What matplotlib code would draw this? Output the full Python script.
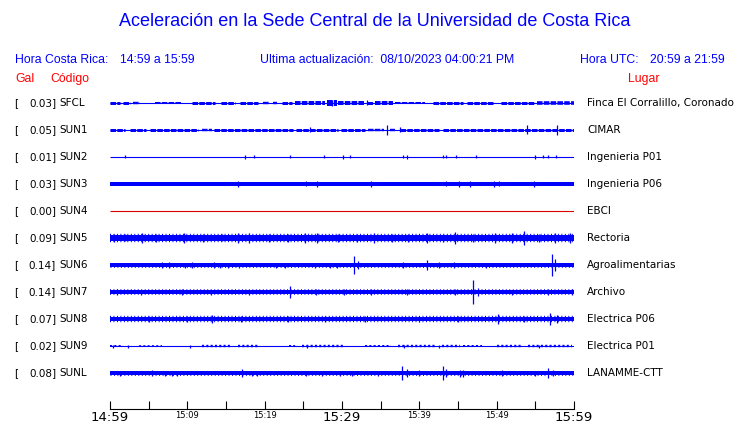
import numpy as np
import matplotlib.pyplot as plt

plt.rcParams['lines.scale_dashes'] = False

# station list (top to bottom)
codes = ['SFCL', 'SUN1', 'SUN2', 'SUN3', 'SUN4', 'SUN5', 'SUN6', 'SUN7', 'SUN8', 'SUN9', 'SUNL']
gal = [0.03, 0.05, 0.01, 0.03, 0.00, 0.09, 0.14, 0.14, 0.07, 0.02, 0.08]
places = ['Finca El Corralillo, Coronado', 'CIMAR', 'Ingenieria P01', 'Ingenieria P06', 'EBCI',
          'Rectoria', 'Agroalimentarias', 'Archivo', 'Electrica P06', 'Electrica P01', 'LANAMME-CTT']

# amplitudes are in trace units, 27 units = distance between two traces
# continuous noise band half-height of each trace
base_amp = [0.5, 0.5, 0.5, 1.6, 0.5, 3.0, 1.6, 1.8, 2.4, 0.5, 1.8]
# typical noise peaks around the band
peak_amp = [0.0, 0.0, 0.0, 2.0, 0.0, 4.2, 2.4, 2.8, 3.2, 0.0, 2.4]

# noisier stretches: (start minute, end minute, half-height)
segments = {
    'SFCL': [(0, 1.3, 1.5), (1.7, 2.6, 1.5), (3.0, 3.9, 1.2), (5.8, 9.3, 1.0), (10.6, 13.6, 1.5),
             (14.4, 16.2, 1.5), (16.8, 19.2, 1.5), (19.8, 20.5, 1.2), (21.1, 21.6, 1.2),
             (22.2, 23.5, 1.5), (23.9, 27.8, 2.0), (28.0, 29.3, 3.0), (29.5, 33.0, 2.0),
             (33.2, 34.0, 1.5), (34.3, 36.6, 2.0), (36.9, 40.7, 1.0), (41.8, 45.7, 1.5),
             (46.1, 49.6, 1.5), (50.6, 55.0, 1.5), (55.2, 60.0, 1.8)],
    'SUN1': [(0, 2.0, 1.5), (2.6, 4.7, 1.5), (5.2, 11.4, 1.5), (11.9, 13.2, 1.2), (13.4, 23.7, 1.5),
             (24.1, 29.5, 1.5), (29.9, 33.0, 1.5), (33.4, 35.4, 1.2), (36.2, 36.8, 1.2),
             (37.5, 42.5, 1.5), (43.0, 60.0, 1.5)],
    'SUN9': [(0, 1.7, 1.0), (3.7, 6.7, 0.8), (11.9, 15.7, 1.2), (16.6, 19.2, 1.2), (23.1, 23.9, 1.0),
             (24.8, 30.4, 1.2), (33.0, 36.4, 1.0), (37.3, 42.0, 1.2), (42.9, 45.3, 1.2),
             (45.7, 48.1, 1.0), (50.0, 53.2, 1.2), (54.1, 59.7, 1.2)],
}

# single bursts: (minute, half-height)
spikes = {
    'SFCL': [(28.7, 3.2), (33.2, 2.5)],
    'SUN1': [(25.9, 2.5), (35.8, 5.0), (37.5, 2.5), (53.9, 4.5), (57.8, 5.0)],
    'SUN2': [(2.0, 1.5), (17.4, 2.0), (18.6, 1.5), (23.3, 1.5), (27.7, 1.5), (30.1, 2.0), (31.0, 1.5),
             (37.9, 1.5), (38.4, 2.0), (43.0, 1.5), (43.4, 1.5), (44.7, 1.5), (47.3, 1.5),
             (54.9, 2.0), (56.0, 1.5), (56.6, 1.5), (57.7, 1.5)],
    'SUN3': [(16.6, 3.0), (25.4, 2.5), (26.8, 3.0), (33.8, 3.0), (43.4, 2.5), (45.1, 3.0),
             (46.6, 3.0), (49.7, 3.0), (50.3, 2.5), (54.8, 3.0)],
    'SUN4': [],
    'SUN5': [(0.5, 4.0), (2.0, 3.5), (4.1, 5.5), (6.0, 4.0), (9.6, 5.5), (12.0, 4.0), (14.5, 3.5),
             (16.5, 5.0), (18.0, 5.0), (20.5, 4.0), (23.0, 4.0), (25.2, 5.0), (26.8, 5.0),
             (29.5, 4.0), (32.0, 4.0), (34.1, 5.0), (36.5, 4.0), (38.5, 4.0), (41.0, 5.5),
             (43.0, 4.0), (44.6, 6.0), (47.0, 4.0), (49.8, 5.0), (52.0, 4.5), (53.5, 7.0),
             (55.5, 4.0), (57.5, 4.5), (59.5, 4.5)],
    'SUN6': [(6.7, 3.0), (7.6, 3.0), (9.7, 2.5), (10.6, 3.0), (13.5, 3.0), (14.2, 2.5), (15.3, 2.5),
             (16.7, 2.5), (21.5, 2.5), (22.6, 2.5), (26.5, 2.5), (28.4, 2.5), (29.3, 2.5),
             (31.6, 9.0), (32.1, 4.0), (37.9, 3.0), (41.0, 5.0), (42.5, 3.0), (44.5, 3.0),
             (48.6, 2.5), (57.2, 11.0), (57.6, 6.0)],
    'SUN7': [(0.9, 3.0), (4.0, 2.5), (9.3, 3.0), (13.0, 2.5), (18.0, 2.5), (23.3, 6.0), (26.7, 3.0),
             (30.2, 3.0), (33.8, 3.0), (38.4, 3.0), (44.6, 3.0), (47.0, 12.0), (47.6, 4.0),
             (52.0, 2.5), (56.7, 3.0), (59.7, 3.0)],
    'SUN8': [(5.0, 3.0), (10.0, 3.0), (13.2, 4.0), (17.0, 3.0), (23.0, 3.0), (27.8, 3.0),
             (33.0, 3.0), (40.0, 3.0), (45.0, 3.0), (50.2, 5.0), (53.5, 3.0), (56.9, 6.0), (57.8, 4.0)],
    'SUN9': [(0.4, 1.5), (2.3, 1.5), (10.4, 1.5), (25.5, 1.5), (38.0, 1.5), (42.5, 1.5), (55.5, 1.5)],
    'SUNL': [(1.3, 2.5), (5.4, 3.0), (7.1, 2.5), (8.0, 2.5), (8.6, 2.5), (17.1, 4.0), (18.3, 2.5),
             (19.0, 2.5), (25.4, 2.5), (27.4, 2.5), (29.7, 2.5), (31.3, 2.5), (34.7, 2.5),
             (37.8, 7.0), (38.4, 4.0), (39.9, 3.0), (43.1, 7.0), (43.4, 4.0), (45.3, 3.5),
             (45.7, 3.5), (50.7, 3.0), (55.0, 2.5), (56.7, 5.0), (57.3, 3.0)],
}

tick_minutes = np.arange(0, 61, 5)
tick_labels = ['14:59', '', '15:09', '', '15:19', '', '15:29', '', '15:39', '', '15:49', '', '15:59']
big_labels = ['14:59', '15:29', '15:59']

ROW = 27.0
W, H = 740, 423
BLUE = '#0000ff'
PT = 0.72  # points per pixel at 100 dpi


def fx(x):
    return x / W


def fy(y):
    return 1 - y / H


fig = plt.figure(figsize=(W / 100, H / 100), dpi=100)
fig.patch.set_facecolor('white')

head = dict(family='Liberation Sans', color=BLUE)
fig.text(fx(375), fy(22), 'Aceleración en la Sede Central de la Universidad de Costa Rica',
         ha='center', va='center', fontsize=13, **head)
fig.text(fx(15), fy(60), 'Hora Costa Rica:', ha='left', va='center', fontsize=8.8, **head)
fig.text(fx(120), fy(60), '14:59 a 15:59', ha='left', va='center', fontsize=8.8, **head)
fig.text(fx(260), fy(60), 'Ultima actualización:  08/10/2023 04:00:21 PM', ha='left', va='center',
         fontsize=8.8, **head)
fig.text(fx(580), fy(60), 'Hora UTC:', ha='left', va='center', fontsize=8.8, **head)
fig.text(fx(650), fy(60), '20:59 a 21:59', ha='left', va='center', fontsize=8.8, **head)
red = dict(family='Liberation Sans', color='#ff0000', fontsize=8.8, va='center')
fig.text(fx(15), fy(79), 'Gal', ha='left', **red)
fig.text(fx(50), fy(79), 'Código', ha='left', **red)
fig.text(fx(644), fy(79), 'Lugar', ha='center', **red)

# traces
ax = fig.add_axes([fx(110), fy(386.5), 464 / W, 297 / H])
ax.set_xlim(0, 60)
ax.set_ylim(len(codes) - 0.5, -0.5)
ax.axis('off')

lab = dict(family='DejaVu Sans', fontsize=7.5, va='center', color='black')
for i, code in enumerate(codes):
    yc = 103 + i * ROW
    fig.text(fx(14), fy(yc), '[', ha='left', **lab)
    fig.text(fx(56), fy(yc), f'{gal[i]:.2f}]', ha='right', **lab)
    fig.text(fx(59), fy(yc), code, ha='left', **lab)
    fig.text(fx(587), fy(yc), places[i], ha='left', **lab)

    col = '#dd0000' if code == 'SUN4' else BLUE
    ax.hlines(i, 0, 60, color=col, lw=0.8)
    if base_amp[i] > 0.6:
        b = base_amp[i] / ROW
        ax.fill_between([0, 60], i - b, i + b, color=col, lw=0)
    if peak_amp[i] > 0:
        # ragged edge of the noise band
        ax.hlines(i, 0, 60, color=col, lw=2 * peak_amp[i] * PT,
                  linestyles=(0, (0.7, 1.8)), capstyle='butt')
    dash = (0, (1.5, 1.6)) if code == 'SUN9' else (0, (4.0, 0.9))
    for s0, s1, a in segments.get(code, []):
        ax.hlines(i, s0, s1, color=col, lw=2 * a * PT, linestyles=dash, capstyle='butt')
    for t, a in spikes.get(code, []):
        ax.vlines(t, i - a / ROW, i + a / ROW, color=col, lw=0.9)

# time axis
tax = fig.add_axes([fx(110), fy(409), 464 / W, 0.02])
tax.set_xlim(0, 60)
for s in ['top', 'left', 'right']:
    tax.spines[s].set_visible(False)
tax.spines['bottom'].set_linewidth(0.8)
tax.set_yticks([])
tax.set_xticks(tick_minutes)
tax.set_xticklabels(tick_labels)
tax.tick_params(axis='x', direction='in', length=6, width=0.8, pad=1.5)
tax.patch.set_visible(False)
for t in tax.get_xticklabels():
    if t.get_text() in big_labels:
        t.set_fontsize(9.5)
    else:
        t.set_fontsize(6)

fig.savefig('out.png', dpi=100)
